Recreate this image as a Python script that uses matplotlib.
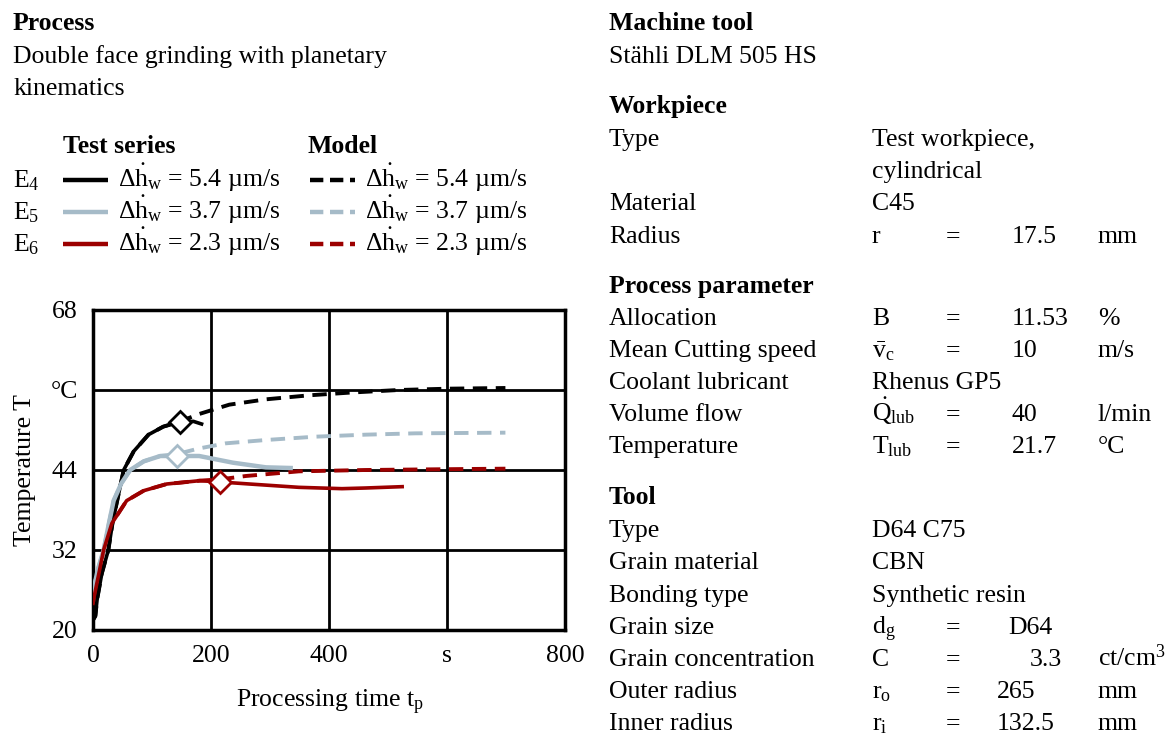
import matplotlib.pyplot as plt
from matplotlib.lines import Line2D

plt.rcParams['font.family'] = ['Liberation Serif', 'DejaVu Serif']
plt.rcParams['mathtext.fontset'] = 'custom'
plt.rcParams['mathtext.rm'] = 'Liberation Serif'
plt.rcParams['mathtext.it'] = 'Liberation Serif:italic'
plt.rcParams['mathtext.bf'] = 'Liberation Serif:bold'

# test series (solid) and model (dashed), time in s, temperature in degC
t_e4 = [0, 4, 7, 15, 26, 33, 41, 52, 69, 94, 119, 148, 170, 184]
T_e4 = [21.5, 22.1, 24.6, 28.5, 32, 36, 39.4, 44, 46.8, 49.3, 50.5, 51.2, 51.3, 50.9]
t_e4_mod = [0, 4, 7, 15, 26, 33, 41, 52, 69, 94, 119, 148, 180, 231, 293, 366, 434, 518, 603, 699]
T_e4_mod = [21.5, 22.1, 24.6, 28.5, 32, 36, 39.4, 44, 46.8, 49.3, 50.5, 51.3, 52.4, 53.8, 54.6, 55.2, 55.6, 56, 56.2, 56.3]

t_e5 = [0, 1, 8, 18, 27, 35, 48, 63, 86, 114, 143, 180, 237, 293, 335]
T_e5 = [25.5, 26.1, 29, 32, 36, 39.4, 42, 44, 45.3, 46.1, 46.1, 46.1, 45.1, 44.4, 44.3]
t_e5_mod = [0, 1, 8, 18, 27, 35, 48, 63, 86, 114, 143, 178, 225, 293, 377, 462, 546, 699]
T_e5_mod = [25.5, 26.1, 29, 32, 36, 39.4, 42, 44, 45.3, 46.1, 46.4, 47.2, 48.0, 48.5, 49.0, 49.3, 49.5, 49.6]

t_e6 = [0, 1, 10, 18, 32, 57, 86, 125, 181, 216, 265, 349, 422, 462, 524]
T_e6 = [24, 24.6, 28.5, 32, 36, 39.4, 40.9, 41.9, 42.4, 42.2, 41.9, 41.4, 41.2, 41.3, 41.5]
t_e6_mod = [0, 1, 10, 18, 32, 57, 86, 125, 181, 216, 259, 349, 462, 575, 699]
T_e6_mod = [24, 24.6, 28.5, 32, 36, 39.4, 40.9, 41.9, 42.4, 42.6, 43.1, 43.8, 44, 44.1, 44.2]

# end of test / start of model prediction
switch_t = [148, 143, 216]
switch_T = [51.2, 46.1, 42.2]

colors = ['black', '#a6bbc8', '#9c0000']
rates = ['5.4', '3.7', '2.3']
series = ['E$_4$', 'E$_5$', 'E$_6$']

W, H = 1174, 736
fig = plt.figure(figsize=(W / 100, H / 100), dpi=100)
FS = 18.5


def put(x, y, s, **kw):
    kw.setdefault('fontsize', FS)
    fig.text(x / W, 1 - y / H, s, va='baseline', **kw)


ax = fig.add_axes([93 / W, 1 - 630 / H, 472 / W, 320 / H])
tests = [(t_e4, T_e4), (t_e5, T_e5), (t_e6, T_e6)]
models = [(t_e4_mod, T_e4_mod), (t_e5_mod, T_e5_mod), (t_e6_mod, T_e6_mod)]
for i in range(3):
    ax.plot(models[i][0], models[i][1], color=colors[i], lw=2.8, ls=(0, (3.7, 2.2)), zorder=3)
    ax.plot(tests[i][0], tests[i][1], color=colors[i], lw=2.6 if i != 1 else 3.2, zorder=4)
    ax.plot(switch_t[i], switch_T[i], marker='D', ms=11, mfc='white', mec=colors[i], mew=2, zorder=5)

ax.set_xlim(0, 800)
ax.set_ylim(20, 68)
ax.set_xticks([0, 200, 400, 600, 800])
ax.set_xticklabels(['0', '200', '400', 's', '800'])
ax.set_yticks([20, 32, 44, 56, 68])
ax.set_yticklabels(['20', '32', '44', '°C', '68'])
ax.tick_params(length=0, labelsize=FS)
ax.tick_params(axis='x', pad=11)
ax.tick_params(axis='y', pad=11)
ax.grid(color='black', lw=2)
ax.set_axisbelow(True)
for sp in ax.spines.values():
    sp.set_linewidth(2.5)
ax.set_xlabel('Processing time t$_\\mathrm{p}$', fontsize=FS)
ax.set_ylabel('Temperature T', fontsize=FS)
ax.xaxis.set_label_coords(0.502, -0.18)
ax.yaxis.set_label_coords(-0.12, 0.5)

# left header
put(13, 30, 'Process', fontweight='bold')
put(13, 63, 'Double face grinding with planetary')
put(13, 95, 'kinematics')

# legend
put(63, 153, 'Test series', fontweight='bold')
put(308, 153, 'Model', fontweight='bold')
for i in range(3):
    y = 187 + 32 * i
    put(13, y, series[i])
    fig.add_artist(Line2D([63 / W, 108 / W], [1 - (y - 7) / H] * 2, color=colors[i],
                          lw=3.2, solid_capstyle='butt'))
    put(118, y, '$\\Delta\\dot{\\mathrm{h}}_\\mathrm{w}$ = ' + rates[i] + ' µm/s')
    fig.add_artist(Line2D([310 / W, 355 / W], [1 - (y - 7) / H] * 2, color=colors[i],
                          lw=3.2, ls=(0, (3, 1.5))))
    put(365, y, '$\\Delta\\dot{\\mathrm{h}}_\\mathrm{w}$ = ' + rates[i] + ' µm/s')

# right side table
X0, X1, X2, X4 = 609, 872, 946, 1098
put(X0, 30, 'Machine tool', fontweight='bold')
put(X0, 63, 'Stähli DLM 505 HS')
put(X0, 113, 'Workpiece', fontweight='bold')
put(X0, 293, 'Process parameter', fontweight='bold')
put(X0, 504, 'Tool', fontweight='bold')
rows = [
    (146, 'Type', 'Test workpiece,', None, None, None),
    (178, '', 'cylindrical', None, None, None),
    (210, 'Material', 'C45', None, None, None),
    (243, 'Radius', 'r', '=', '17.5', 'mm'),
    (325, 'Allocation', 'B', '=', '11.53', '%'),
    (357, 'Mean Cutting speed', '$\\bar{\\mathrm{v}}_\\mathrm{c}$', '=', '10', 'm/s'),
    (389, 'Coolant lubricant', 'Rhenus GP5', None, None, None),
    (421, 'Volume flow', '$\\dot{\\mathrm{Q}}_\\mathrm{lub}$', '=', '40', 'l/min'),
    (453, 'Temperature', 'T$_\\mathrm{lub}$', '=', '21.7', '°C'),
    (537, 'Type', 'D64 C75', None, None, None),
    (569, 'Grain material', 'CBN', None, None, None),
    (602, 'Bonding type', 'Synthetic resin', None, None, None),
    (634, 'Grain size', 'd$_\\mathrm{g}$', '=', 'D64', None),
    (666, 'Grain concentration', 'C', '=', '3.3', 'ct/cm$^3$'),
    (698, 'Outer radius', 'r$_\\mathrm{o}$', '=', '265', 'mm'),
    (730, 'Inner radius', 'r$_\\mathrm{i}$', '=', '132.5', 'mm'),
]
value_x = {'D64': 1008, '3.3': 1030, '265': 997, '132.5': 997}
for y, a, b, c, d, e in rows:
    put(X0, y, a)
    put(X1, y, b)
    if c:
        put(X2, y, c)
    if d:
        put(value_x.get(d, 1012), y, d)
    if e:
        put(X4, y, e)

fig.savefig('out.png', dpi=100)
